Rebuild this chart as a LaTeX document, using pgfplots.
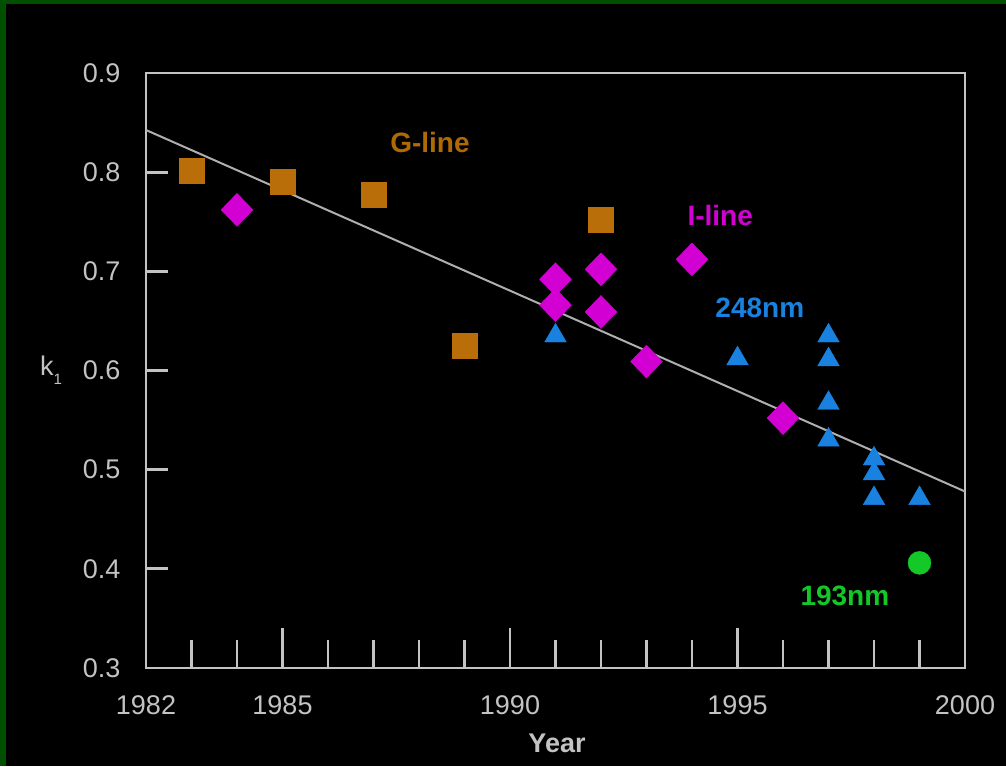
\documentclass[border=0pt]{standalone}
\usepackage{pgfplots}
\pgfplotsset{compat=1.18}
\usepackage{fontspec}
\setmainfont{Liberation Sans}
\definecolor{gline}{RGB}{185,110,10}
\definecolor{glinetext}{RGB}{175,105,5}
\definecolor{iline}{RGB}{210,0,210}
\definecolor{kr}{RGB}{25,130,225}
\definecolor{arf}{RGB}{20,200,40}
\definecolor{framegreen}{RGB}{0,80,0}
\definecolor{axgray}{RGB}{195,195,195}
\begin{document}
\begin{tikzpicture}[x=1pt,y=1pt]
\fill[black] (0,0) rectangle (1006,766);
\fill[framegreen] (0,0) rectangle (6,766);
\fill[framegreen] (0,762) rectangle (1006,766);
\begin{axis}[
  at={(146pt,98pt)}, anchor=south west,
  scale only axis, width=819pt, height=595pt,
  xmin=1982, xmax=2000, ymin=0.3, ymax=0.9,
  axis line style={axgray, line width=2.8pt},
  xtick={1982,1985,1990,1995,2000},
  xticklabels={1982,1985,1990,1995,2000},
  minor xtick={1983,1984,1986,1987,1988,1989,1991,1992,1993,1994,1996,1997,1998,1999},
  ytick={0.3,0.4,0.5,0.6,0.7,0.8,0.9},
  yticklabels={0.3,0.4,0.5,0.6,0.7,0.8,0.9},
  xtick pos=bottom, ytick pos=left, tick align=inside,
  major tick length=40pt, minor tick length=28pt,
  ytick style={/pgfplots/major tick length=22pt},
  tick style={axgray, line width=2.8pt},
  minor tick style={axgray, line width=2.8pt},
  ticklabel style={text=axgray, font=\fontsize{27}{30}\selectfont},
  yticklabel style={anchor=east, xshift=-22pt},
  xticklabel style={anchor=north, yshift=-24pt},
  clip=false,
]
\addplot[only marks, mark=square*, mark size=12.5pt, color=gline] coordinates {
 (1983,0.801) (1985,0.790) (1987,0.777) (1989,0.625) (1992,0.752)};
\addplot[only marks, mark=diamond*, mark size=16.5pt, mark options={xscale=1.29}, color=iline] coordinates {
 (1984,0.762) (1991,0.692) (1991,0.666) (1992,0.702) (1992,0.659) (1993,0.609) (1994,0.712) (1996,0.552)};
\addplot[only marks, mark=triangle*, mark size=12.5pt, color=kr] coordinates {
 (1991,0.635) (1995,0.612) (1997,0.635) (1997,0.611) (1997,0.567) (1997,0.530)
 (1998,0.511) (1998,0.496) (1998,0.471) (1999,0.471)};
\addplot[only marks, mark=*, mark size=11.5pt, color=arf] coordinates {(1999,0.406)};
\addplot[axgray!90!black, line width=2pt] coordinates {(1982,0.8425) (2000,0.478)};
\node[text=glinetext, font=\bfseries\fontsize{28}{30}\selectfont] at (axis cs:1988.24,0.830) {G-line};
\node[text=iline, font=\bfseries\fontsize{28}{30}\selectfont] at (axis cs:1994.62,0.756) {I-line};
\node[text=kr, font=\bfseries\fontsize{28}{30}\selectfont] at (axis cs:1995.49,0.663) {248nm};
\node[text=arf, font=\bfseries\fontsize{28}{30}\selectfont] at (axis cs:1997.36,0.373) {193nm};
\end{axis}
\node[text=axgray, font=\bfseries\fontsize{27}{30}\selectfont] at (557,23) {Year};
\node[text=axgray, font=\fontsize{27}{30}\selectfont] at (51,396) {k\raisebox{-0.35em}{\fontsize{15}{15}\selectfont 1}};
\pgfresetboundingbox
\path[use as bounding box] (0,0) rectangle (1006,766);
\end{tikzpicture}
\end{document}
